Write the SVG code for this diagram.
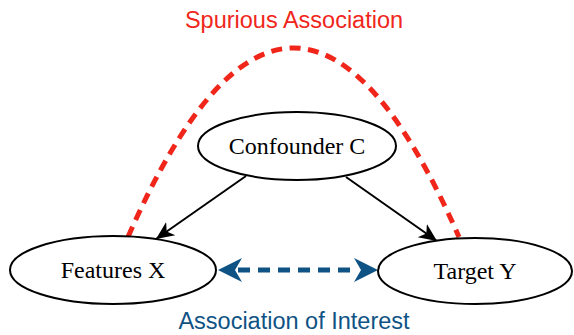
<svg xmlns="http://www.w3.org/2000/svg" width="574" height="335" viewBox="0 0 574 335">
  <style>
    .node ellipse { fill: #ffffff; stroke: #000000; stroke-width: 2; }
    .node text { font-family: "Liberation Serif", "Times New Roman", serif; font-size: 24px; fill: #000000; text-anchor: middle; }
    .label { font-family: "Liberation Sans", Arial, sans-serif; font-size: 23.5px; text-anchor: middle; }
    .causal { fill: none; stroke: #000000; stroke-width: 2; }
    .spurious { fill: none; stroke: #f0261b; stroke-width: 5; stroke-dasharray: 11 7.5; }
    .interest { fill: none; stroke: #0f5385; stroke-width: 5; stroke-dasharray: 12 8; }
  </style>
  <defs>
    <marker id="arrowBlack" viewBox="0 0 20 20" refX="18" refY="10" markerWidth="20" markerHeight="20" markerUnits="userSpaceOnUse" orient="auto">
      <path d="M0,2 L18,10 L0,18 L5,10 Z" fill="#000000"/>
    </marker>
    <marker id="arrowBlue" viewBox="0 0 26 24" refX="24" refY="12" markerWidth="26" markerHeight="24" markerUnits="userSpaceOnUse" orient="auto-start-reverse">
      <path d="M0,0 L24,12 L0,24 L7,12 Z" fill="#0f5385"/>
    </marker>
  </defs>

  <!-- connectors -->
  <g id="connectors">
    <path class="spurious" d="M128,237 Q293.5,-141 459,237"/>
    <line class="causal" x1="246" y1="176" x2="156" y2="239" marker-end="url(#arrowBlack)"/>
    <line class="causal" x1="346" y1="177" x2="437" y2="241" marker-end="url(#arrowBlack)"/>
    <line x1="218" y1="270" x2="378" y2="270" stroke="none" marker-start="url(#arrowBlue)" marker-end="url(#arrowBlue)"/>
    <line class="interest" x1="238" y1="270" x2="358" y2="270"/>
  </g>

  <!-- nodes -->
  <g id="confounder" class="node">
    <ellipse cx="297" cy="146" rx="99" ry="34"/>
    <text x="297" y="154">Confounder C</text>
  </g>
  <g id="features" class="node">
    <ellipse cx="113" cy="270" rx="103" ry="34"/>
    <text x="113" y="278">Features X</text>
  </g>
  <g id="target" class="node">
    <ellipse cx="475" cy="271" rx="97" ry="33"/>
    <text x="475" y="279">Target Y</text>
  </g>

  <!-- labels -->
  <text class="label" x="294" y="28" fill="#f0261b">Spurious Association</text>
  <text class="label" x="294" y="329" fill="#0f5385">Association of Interest</text>
</svg>
